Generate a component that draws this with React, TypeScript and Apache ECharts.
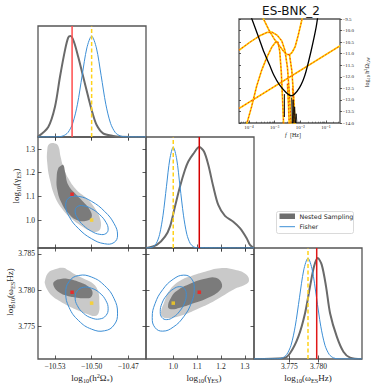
import React, { useEffect, useRef } from "react";
import * as echarts from "echarts";

// ---------- reference values ----------
const truthH2 = -10.5;
const truthGam = 1.0;
const truthOm = 3.7782;
const bestH2 = -10.516;
const bestGam = 1.109;
const bestOm = 3.7797;

// ---------- axis ranges and ticks ----------
const h2Range = [-10.5439, -10.4555];
const gamRangeX = [0.886, 1.338];
const gamRangeY = [0.882, 1.351];
const omRangeX = [3.7689, 3.7875];
const omRangeY = [3.7705, 3.7858];
const h2Ticks = [-10.53, -10.5, -10.47];
const gamTicks = [1.0, 1.1, 1.2, 1.3];
const omTicks = [3.775, 3.78, 3.785];
const omTicksDiag = [3.775, 3.78];
const insetXRange = [-4.39, -0.45];
const insetYRange = [-14.0, -9.5];
const insetXTicks = [-4, -3, -2, -1];
const insetXLabels = ["10\u207B\u2074", "10\u207B\u00B3", "10\u207B\u00B2", "10\u207B\u00B9"];

// ---------- 1D marginals ----------
const nsH2X = [-10.5439, -10.5437, -10.5355, -10.53, -10.5259, -10.5218, -10.5191, -10.5172, -10.5145, -10.511, -10.5069, -10.5028, -10.4992, -10.4959, -10.4906, -10.4824, -10.4769, -10.4557];
const nsH2Y = [0.004, 0.01, 0.1, 0.3, 0.597, 0.861, 0.987, 1.0, 0.944, 0.795, 0.597, 0.399, 0.234, 0.119, 0.036, 0.01, 0.003, 0];
const fiH2X = [-10.5439, -10.5272, -10.5233, -10.5194, -10.5155, -10.5116, -10.5078, -10.5039, -10.5, -10.4961, -10.4922, -10.4884, -10.4845, -10.4806, -10.4767, -10.4728, -10.4557];
const fiH2Y = [0, 0.002, 0.011, 0.044, 0.135, 0.325, 0.607, 0.883, 1.0, 0.883, 0.607, 0.325, 0.135, 0.044, 0.011, 0.002, 0];

const nsGamX = [0.889, 0.931, 0.9655, 0.9864, 1.0073, 1.0283, 1.0492, 1.063, 1.0839, 1.109, 1.1287, 1.1467, 1.1676, 1.1885, 1.2165, 1.2513, 1.2793, 1.3073, 1.3212, 1.338];
const nsGamY = [0.0, 0.03, 0.112, 0.212, 0.41, 0.609, 0.775, 0.857, 0.933, 1.0, 0.956, 0.824, 0.609, 0.427, 0.318, 0.261, 0.196, 0.096, 0.03, 0.0];
const fiGamX = [0.886, 0.9003, 0.9145, 0.9288, 0.943, 0.9573, 0.9715, 0.9858, 1.0, 1.0143, 1.0285, 1.0428, 1.057, 1.0713, 1.0855, 1.0998, 1.338];
const fiGamY = [0, 0.002, 0.011, 0.044, 0.135, 0.325, 0.607, 0.883, 1.0, 0.883, 0.607, 0.325, 0.135, 0.044, 0.011, 0.002, 0];

const nsOmX = [3.7689, 3.77395, 3.77511, 3.77654, 3.77769, 3.77855, 3.77924, 3.77988, 3.78057, 3.78131, 3.782, 3.78316, 3.7843, 3.78545, 3.7875];
const nsOmY = [0, 0.007, 0.057, 0.221, 0.454, 0.718, 0.917, 1.0, 0.933, 0.718, 0.454, 0.221, 0.072, 0.013, 0];
const fiOmX = [3.7689, 3.77307, 3.7738, 3.77453, 3.77527, 3.776, 3.77673, 3.77747, 3.7782, 3.77893, 3.77967, 3.7804, 3.78113, 3.78187, 3.7826, 3.78333, 3.7875];
const fiOmY = [0, 0.002, 0.011, 0.044, 0.135, 0.325, 0.607, 0.883, 1.0, 0.883, 0.607, 0.325, 0.135, 0.044, 0.011, 0.002, 0];

// ---------- 2D contours (nested sampling) ----------
const lightH2Gam = [[-10.5347, 1.3211], [-10.53, 1.324], [-10.5273, 1.3126], [-10.5254, 1.2675], [-10.5232, 1.2253], [-10.5191, 1.1763], [-10.5123, 1.127], [-10.5041, 1.0919], [-10.4973, 1.0498], [-10.4932, 1.0076], [-10.4927, 0.9654], [-10.4959, 0.951], [-10.5014, 0.9553], [-10.5096, 0.9793], [-10.5178, 1.0118], [-10.5245, 1.0498], [-10.53, 1.0987], [-10.5341, 1.1692], [-10.5363, 1.2396], [-10.5363, 1.2958]];
const darkH2Gam = [[-10.5254, 1.2282], [-10.5232, 1.2325], [-10.5218, 1.2042], [-10.5191, 1.1481], [-10.5123, 1.1059], [-10.5069, 1.0776], [-10.5014, 1.0426], [-10.5, 1.0118], [-10.5041, 0.9975], [-10.5123, 1.0004], [-10.5191, 1.0287], [-10.5245, 1.0709], [-10.5281, 1.127], [-10.5286, 1.1831], [-10.5273, 1.2186]];
const lightH2Om = [[-10.5382, 3.78129], [-10.5355, 3.78239], [-10.53, 3.78287], [-10.5235, 3.78308], [-10.5191, 3.78273], [-10.5137, 3.78218], [-10.5063, 3.78156], [-10.4987, 3.78087], [-10.4946, 3.77977], [-10.4937, 3.77826], [-10.4942, 3.77688], [-10.4973, 3.77643], [-10.503, 3.77667], [-10.5096, 3.77709], [-10.5178, 3.77771], [-10.5259, 3.77846], [-10.5325, 3.77922], [-10.5365, 3.78012], [-10.5382, 3.78087]];
const darkH2Om = [[-10.5308, 3.78115], [-10.5243, 3.78156], [-10.5178, 3.78149], [-10.5096, 3.78108], [-10.503, 3.78053], [-10.4994, 3.77984], [-10.5006, 3.77901], [-10.5047, 3.77888], [-10.512, 3.77895], [-10.5202, 3.77922], [-10.5267, 3.7797], [-10.5308, 3.78046]];
const lightGamOm = [[0.9488, 3.77674], [0.9613, 3.77826], [0.9864, 3.78005], [1.0283, 3.78129], [1.0785, 3.78197], [1.1329, 3.78253], [1.1956, 3.78301], [1.2584, 3.7828], [1.3044, 3.78218], [1.317, 3.78129], [1.3002, 3.78074], [1.2584, 3.78018], [1.2124, 3.77929], [1.1622, 3.77833], [1.1036, 3.77743], [1.045, 3.7766], [0.9948, 3.77619], [0.9613, 3.77619]];
const darkGamOm = [[0.9781, 3.77771], [0.9906, 3.77895], [1.0157, 3.77991], [1.0701, 3.78087], [1.1329, 3.78156], [1.1789, 3.7817], [1.204, 3.7808], [1.1915, 3.77984], [1.1371, 3.77881], [1.0785, 3.77812], [1.0283, 3.77757], [0.9906, 3.77736]];

// ---------- 2D Fisher ellipses ----------
const fiOuterH2Gam = [[-10.4788, 0.9367], [-10.4816, 0.9055], [-10.4894, 0.9], [-10.5, 0.9211], [-10.5106, 0.9633], [-10.5184, 1.0152], [-10.5212, 1.0633], [-10.5184, 1.0945], [-10.5106, 1.1], [-10.5, 1.0789], [-10.4894, 1.0367], [-10.4816, 0.9848]];
const fiInnerH2Gam = [[-10.4865, 0.9618], [-10.4883, 0.943], [-10.4933, 0.9397], [-10.5, 0.9523], [-10.5067, 0.9776], [-10.5117, 1.0093], [-10.5135, 1.0382], [-10.5117, 1.057], [-10.5067, 1.0603], [-10.5, 1.0477], [-10.4933, 1.0224], [-10.4883, 0.9907]];
const fiOuterH2Om = [[-10.4788, 3.77682], [-10.4816, 3.7752], [-10.4894, 3.77439], [-10.5, 3.77461], [-10.5106, 3.77578], [-10.5184, 3.77759], [-10.5212, 3.77958], [-10.5184, 3.7812], [-10.5106, 3.78201], [-10.5, 3.78179], [-10.4894, 3.78062], [-10.4816, 3.77881]];
const fiInnerH2Om = [[-10.4865, 3.77742], [-10.4883, 3.77649], [-10.4933, 3.77602], [-10.5, 3.77615], [-10.5067, 3.77681], [-10.5117, 3.77786], [-10.5135, 3.77898], [-10.5117, 3.77991], [-10.5067, 3.78038], [-10.5, 3.78025], [-10.4933, 3.77959], [-10.4883, 3.77854]];
const fiOuterGamOm = [[1.0879, 3.78018], [1.0762, 3.77827], [1.0439, 3.77633], [1.0, 3.7749], [0.9561, 3.77434], [0.9238, 3.77483], [0.9121, 3.77622], [0.9238, 3.77813], [0.9561, 3.78007], [1.0, 3.7815], [1.0439, 3.78206], [1.0762, 3.78157]];
const fiInnerGamOm = [[1.0544, 3.77937], [1.0473, 3.77824], [1.0272, 3.7771], [1.0, 3.77626], [0.9728, 3.77593], [0.9527, 3.77622], [0.9456, 3.77703], [0.9527, 3.77816], [0.9728, 3.7793], [1.0, 3.78014], [1.0272, 3.78047], [1.0473, 3.78018]];

// ---------- inset spectra (log10 f, log10 h2 Omega) ----------
const insetSens = [[-3.96, -9.28], [-3.597, -10.374], [-3.413, -10.942], [-3.206, -11.466], [-3.023, -11.947], [-2.816, -12.34], [-2.554, -12.68], [-2.359, -12.82], [-2.23, -12.76], [-2.035, -12.48], [-1.89, -12.15], [-1.773, -11.759], [-1.578, -10.885], [-1.382, -9.863], [-1.304, -9.28]];
const insetSensSpikes = [[-2.34, -12.9], [-2.31, -14.0], [-2.28, -13.0], [-2.25, -14.0], [-2.22, -13.3], [-2.19, -14.0], [-2.16, -13.6], [-2.13, -14.0]];
const insetSensBar = [[-2.62, -12.75], [-2.62, -13.74]];
const insetSpecA = [[-4.39, -13.37], [-0.445, -10.66]];
const insetSpecB = [[-3.53, -9.28], [-3.374, -9.63], [-3.206, -10.011], [-3.023, -10.35], [-2.82, -10.65], [-2.65, -10.9], [-2.52, -11.03], [-2.42, -11.04], [-2.32, -10.95], [-2.2, -10.7], [-2.08, -10.2], [-1.95, -9.6], [-1.9, -9.28]];
const insetSpecC = [[-4.39, -10.85], [-3.96, -10.5], [-3.57, -10.22], [-3.3, -10.08], [-3.1, -10.07], [-2.9, -10.2], [-2.72, -10.45], [-2.6, -10.85], [-2.5, -11.6], [-2.42, -12.8], [-2.36, -14.04]];
const insetSpecD = [[-4.1, -14.09], [-3.9, -13.3], [-3.7, -12.4], [-3.5, -11.7], [-3.3, -11.15], [-3.1, -10.7], [-2.95, -10.48], [-2.87, -10.5], [-2.8, -10.9], [-2.74, -11.8], [-2.69, -13.0], [-2.65, -14.04]];
const insetSpecE = [[-2.42, -11.04], [-2.33, -11.73], [-2.26, -12.82], [-2.2, -14.04]];
const insetSpecF = [[-2.5, -12.3], [-2.46, -13.2], [-2.43, -14.04]];
const insetSpecG = [[-2.3, -12.5], [-2.26, -13.3], [-2.25, -14.04]];

// ---------- styling ----------
const SERIF = "'Liberation Serif', 'DejaVu Serif', serif";
const SANS = "'DejaVu Sans', sans-serif";
const GREY_LINE = "#6a6a6a";
const BLUE = "#3d8fd6";
const LIGHT = "#c9c9c9";
const DARK = "#7b7b7b";
const YELLOW = "#ffd21a";
const TICK = { color: "#333", width: 0.8 };

const minus = (v: number, d: number) => (v < 0 ? "\u2212" : "") + Math.abs(v).toFixed(d);

const panels = [
  { left: 38, top: 26, width: 108, height: 111 },
  { left: 38, top: 137, width: 108, height: 111 },
  { left: 146, top: 137, width: 108, height: 111 },
  { left: 38, top: 248, width: 108, height: 111 },
  { left: 146, top: 248, width: 108, height: 111 },
  { left: 254, top: 248, width: 108, height: 111 },
  { left: 239, top: 19, width: 101, height: 104 },
];

function xAxisPair(grid: number, range: number[], ticks: number[], labels: boolean, digits: number) {
  const base = {
    type: "value",
    gridIndex: grid,
    min: range[0],
    max: range[1],
    axisLine: { show: false },
    splitLine: { show: false },
  };
  return [
    {
      ...base,
      position: "bottom",
      axisTick: { show: true, inside: true, length: 3.5, lineStyle: TICK, customValues: ticks },
      axisLabel: labels
        ? { show: true, customValues: ticks, formatter: (v: number) => minus(v, digits), fontFamily: SERIF, fontSize: 7.5, color: "#222", margin: 3 }
        : { show: false, customValues: ticks },
    },
    {
      ...base,
      position: "top",
      axisTick: { show: true, inside: true, length: 3.5, lineStyle: TICK, customValues: ticks },
      axisLabel: { show: false, customValues: ticks },
    },
  ];
}

function yAxisPair(grid: number, range: number[], ticks: number[] | null, labels: boolean, digits: number) {
  const base = {
    type: "value",
    gridIndex: grid,
    min: range[0],
    max: range[1],
    axisLine: { show: false },
    splitLine: { show: false },
  };
  if (!ticks) {
    return [
      { ...base, position: "left", axisTick: { show: false }, axisLabel: { show: false } },
      { ...base, position: "right", axisTick: { show: false }, axisLabel: { show: false } },
    ];
  }
  return [
    {
      ...base,
      position: "left",
      axisTick: { show: true, inside: true, length: 3.5, lineStyle: TICK, customValues: ticks },
      axisLabel: labels
        ? { show: true, customValues: ticks, formatter: (v: number) => minus(v, digits), fontFamily: SERIF, fontSize: 7.5, color: "#222", margin: 3 }
        : { show: false, customValues: ticks },
    },
    {
      ...base,
      position: "right",
      axisTick: { show: true, inside: true, length: 3.5, lineStyle: TICK, customValues: ticks },
      axisLabel: { show: false, customValues: ticks },
    },
  ];
}

const pairs = (xs: number[], ys: number[]) => xs.map((x, i) => [x, ys[i]]);

function line(ax: number, data: number[][], color: string, width: number, extra: any = {}) {
  return {
    type: "line",
    xAxisIndex: ax,
    yAxisIndex: ax,
    data,
    symbol: "none",
    showSymbol: false,
    silent: true,
    lineStyle: { color, width, ...(extra.lineStyle || {}) },
    smooth: extra.smooth ?? 0,
    z: extra.z ?? 3,
    clip: true,
  };
}

function poly(ax: number, pts: number[][], fill: string | null, stroke: string | null, z: number, smooth = 0.45) {
  return {
    type: "custom",
    xAxisIndex: ax,
    yAxisIndex: ax,
    data: pts,
    silent: true,
    z,
    renderItem: (params: any, api: any) => {
      if (params.dataIndex !== 0) return null;
      const p = pts.map((q) => api.coord(q));
      return {
        type: "polygon",
        shape: { points: p, smooth },
        style: { fill: fill || "none", stroke: stroke || "none", lineWidth: stroke ? 1 : 0 },
      };
    },
  };
}

function vline(ax: number, x: number, yMax: number, color: string, width: number, dashed: boolean) {
  return line(ax, [[x, 0], [x, yMax]], color, width, { lineStyle: dashed ? { type: [4, 2.5] } : {}, z: 4 });
}

function dots(ax: number, x: number, y: number, color: string) {
  return {
    type: "scatter",
    xAxisIndex: ax,
    yAxisIndex: ax,
    data: [[x, y]],
    symbol: "rect",
    symbolSize: 3.5,
    itemStyle: { color },
    silent: true,
    z: 6,
  };
}

function specPair(data: number[][]) {
  return [
    line(12, data, "#ffcc00", 1.7, { z: 3 }),
    line(12, data, "#f0280c", 0.9, { lineStyle: { type: [1.5, 2] }, z: 4 }),
  ];
}

function buildOption() {
  const grid = panels.map((p) => ({ ...p, show: true, borderColor: "#555", borderWidth: 1.3, backgroundColor: "transparent", containLabel: false, outerBoundsMode: "none" }));

  const xAxis: any[] = [
    ...xAxisPair(0, h2Range, h2Ticks, false, 2),
    ...xAxisPair(1, h2Range, h2Ticks, false, 2),
    ...xAxisPair(2, gamRangeX, gamTicks, false, 1),
    ...xAxisPair(3, h2Range, h2Ticks, true, 2),
    ...xAxisPair(4, gamRangeX, gamTicks, true, 1),
    ...xAxisPair(5, omRangeX, omTicksDiag, true, 3),
  ];
  const yAxis: any[] = [
    ...yAxisPair(0, [0, 1.1], null, false, 0),
    ...yAxisPair(1, gamRangeY, gamTicks, true, 1),
    ...yAxisPair(2, [0, 1.1], null, false, 0),
    ...yAxisPair(3, omRangeY, omTicks, true, 3),
    ...yAxisPair(4, omRangeY, omTicks, false, 3),
    ...yAxisPair(5, [0, 1.1], null, false, 0),
  ];
  const minor: number[] = [];
  for (let d = -5; d <= -1; d++) for (let k = 2; k <= 9; k++) {
    const v = d + Math.log10(k);
    if (v > insetXRange[0] && v < insetXRange[1]) minor.push(v);
  }
  xAxis.push(
    {
      type: "value", gridIndex: 6, min: insetXRange[0], max: insetXRange[1], position: "bottom",
      axisLine: { show: false }, splitLine: { show: false },
      axisTick: { show: true, inside: true, length: 2.5, lineStyle: TICK, customValues: insetXTicks },
      axisLabel: { show: true, customValues: insetXTicks, formatter: (v: number) => insetXLabels[insetXTicks.indexOf(Math.round(v))] || "", fontFamily: SERIF, fontSize: 5, color: "#222", margin: 2 },
    },
    {
      type: "value", gridIndex: 6, min: insetXRange[0], max: insetXRange[1], position: "bottom",
      axisLine: { show: false }, splitLine: { show: false },
      axisTick: { show: true, inside: true, length: 1.4, lineStyle: { color: "#333", width: 0.5 }, customValues: minor },
      axisLabel: { show: false },
    }
  );
  yAxis.push(
    {
      type: "value", gridIndex: 6, min: insetYRange[0], max: insetYRange[1], interval: 0.5, position: "right",
      axisLine: { show: false }, splitLine: { show: false },
      axisTick: { show: true, inside: false, length: 2, lineStyle: TICK },
      axisLabel: { show: true, formatter: (v: number) => minus(v, 1), fontFamily: SERIF, fontSize: 5, color: "#222", margin: 2.5 },
    },
    {
      type: "value", gridIndex: 6, min: insetYRange[0], max: insetYRange[1], interval: 0.5, position: "left",
      axisLine: { show: false }, splitLine: { show: false },
      axisTick: { show: true, inside: true, length: 2, lineStyle: TICK },
      axisLabel: { show: false },
    }
  );

  const A = (g: number) => 2 * g;
  const series: any[] = [
    // diag 1
    line(A(0), pairs(nsH2X, nsH2Y), GREY_LINE, 2, { smooth: 0.3 }),
    line(A(0), pairs(fiH2X, fiH2Y), BLUE, 1, { smooth: 0.3 }),
    vline(A(0), bestH2, 1.1, "#ff4d4d", 1.5, false),
    vline(A(0), truthH2, 1.1, YELLOW, 1.5, true),
    // gamma vs h2
    poly(A(1), lightH2Gam, LIGHT, null, 1),
    poly(A(1), darkH2Gam, DARK, null, 2),
    poly(A(1), fiOuterH2Gam, null, BLUE, 3),
    poly(A(1), fiInnerH2Gam, null, BLUE, 3),
    dots(A(1), bestH2, bestGam, "#ff1a1a"),
    dots(A(1), truthH2, truthGam, YELLOW),
    // diag 2
    line(A(2), pairs(nsGamX, nsGamY), GREY_LINE, 2, { smooth: 0.3 }),
    line(A(2), pairs(fiGamX, fiGamY), BLUE, 1, { smooth: 0.3 }),
    vline(A(2), bestGam, 1.1, "#d40000", 1.5, false),
    vline(A(2), truthGam, 1.1, YELLOW, 1.5, true),
    // omega vs h2
    poly(A(3), lightH2Om, LIGHT, null, 1),
    poly(A(3), darkH2Om, DARK, null, 2),
    poly(A(3), fiOuterH2Om, null, BLUE, 3),
    poly(A(3), fiInnerH2Om, null, BLUE, 3),
    dots(A(3), bestH2, bestOm, "#ff1a1a"),
    dots(A(3), truthH2, truthOm, YELLOW),
    // omega vs gamma
    poly(A(4), lightGamOm, LIGHT, null, 1),
    poly(A(4), darkGamOm, DARK, null, 2),
    poly(A(4), fiOuterGamOm, null, BLUE, 3),
    poly(A(4), fiInnerGamOm, null, BLUE, 3),
    dots(A(4), bestGam, bestOm, "#ff1a1a"),
    dots(A(4), truthGam, truthOm, YELLOW),
    // diag 3
    line(A(5), pairs(nsOmX, nsOmY), GREY_LINE, 2, { smooth: 0.3 }),
    line(A(5), pairs(fiOmX, fiOmY), BLUE, 1, { smooth: 0.3 }),
    vline(A(5), bestOm, 1.1, "#e01818", 1.5, false),
    vline(A(5), truthOm, 1.1, YELLOW, 1.5, true),
    // inset
    line(12, insetSens, "#000", 1.3, { z: 5, smooth: 0.3 }),
    line(12, insetSensSpikes, "#000", 0.8, { z: 5 }),
    line(12, insetSensBar, "#000", 1, { z: 5 }),
    ...specPair(insetSpecA),
    ...specPair(insetSpecB),
    ...specPair(insetSpecC),
    ...specPair(insetSpecD),
    ...specPair(insetSpecE),
    ...specPair(insetSpecF),
    ...specPair(insetSpecG),
  ];

  const richBase = {
    a: { fontFamily: SERIF, fontSize: 9, color: "#222" },
    s: { fontFamily: SERIF, fontSize: 6.3, color: "#222", padding: [5, 0, 0, 0] },
    p: { fontFamily: SERIF, fontSize: 6.3, color: "#222", padding: [0, 0, 5, 0] },
  };
  const label = (text: string, x: number, y: number, rot = 0, rich: any = richBase) => ({
    type: "text",
    x,
    y,
    rotation: rot,
    silent: true,
    style: { text, rich, align: "center", verticalAlign: "middle", fill: "#222" },
  });

  const smallRich = {
    a: { fontFamily: SERIF, fontSize: 6, color: "#222" },
    s: { fontFamily: SERIF, fontSize: 4.3, color: "#222", padding: [3.5, 0, 0, 0] },
    p: { fontFamily: SERIF, fontSize: 4.3, color: "#222", padding: [0, 0, 3.5, 0] },
    i: { fontFamily: SERIF, fontSize: 6, fontStyle: "italic", color: "#222" },
  };

  const graphic: any[] = [
    label("{a|log}{s|10}{a|(h}{p|2}{a|\u03A9}{s|*}{a|)}", 92, 378),
    label("{a|log}{s|10}{a|(\u03B3}{s|ES}{a|)}", 204, 378),
    label("{a|log}{s|10}{a|(\u03C9}{s|ES}{a|Hz)}", 308, 378),
    label("{a|log}{s|10}{a|(\u03B3}{s|ES}{a|)}", 16, 186, Math.PI / 2),
    label("{a|log}{s|10}{a|(\u03C9}{s|ES}{a|Hz)}", 10, 292, Math.PI / 2),
    label("{i|f} {a|[Hz]}", 293, 135, 0, smallRich),
    label("{a|log}{s|10}{a| h}{p|2}{a|\u03A9}{s|GW}", 367, 72, Math.PI / 2, smallRich),
    {
      type: "text", x: 291, y: 11, silent: true,
      style: { text: "ES-BNK_2", font: `12px ${SANS}`, fill: "#111", align: "center", verticalAlign: "middle" },
    },
    // legend
    { type: "rect", shape: { x: 276.5, y: 211.5, width: 77, height: 22, r: 2 }, style: { fill: "#fff", stroke: "#d0d0d0", lineWidth: 0.8 }, silent: true, z: 10 },
    { type: "rect", shape: { x: 279.5, y: 213.5, width: 15.5, height: 5.5 }, style: { fill: "#6e6e6e" }, silent: true, z: 11 },
    { type: "line", shape: { x1: 279.5, y1: 226.7, x2: 295, y2: 226.7 }, style: { stroke: BLUE, lineWidth: 1 }, silent: true, z: 11 },
    { type: "text", x: 299.5, y: 216.5, silent: true, z: 11, style: { text: "Nested Sampling", font: `6.3px ${SANS}`, fill: "#222", align: "left", verticalAlign: "middle" } },
    { type: "text", x: 299.5, y: 226.7, silent: true, z: 11, style: { text: "Fisher", font: `6.3px ${SANS}`, fill: "#222", align: "left", verticalAlign: "middle" } },
  ];

  return { animation: false, backgroundColor: "#fff", grid, xAxis, yAxis, series, graphic };
}

export default function App() {
  const ref = useRef<HTMLDivElement>(null);
  useEffect(() => {
    if (!ref.current) return;
    const chart = echarts.init(ref.current, null, { renderer: "svg" });
    chart.setOption(buildOption() as any);
    return () => chart.dispose();
  }, []);
  return (
    <div
      ref={ref}
      style={{ position: "fixed", left: 0, top: 0, width: 374, height: 389, background: "#fff" }}
    />
  );
}
